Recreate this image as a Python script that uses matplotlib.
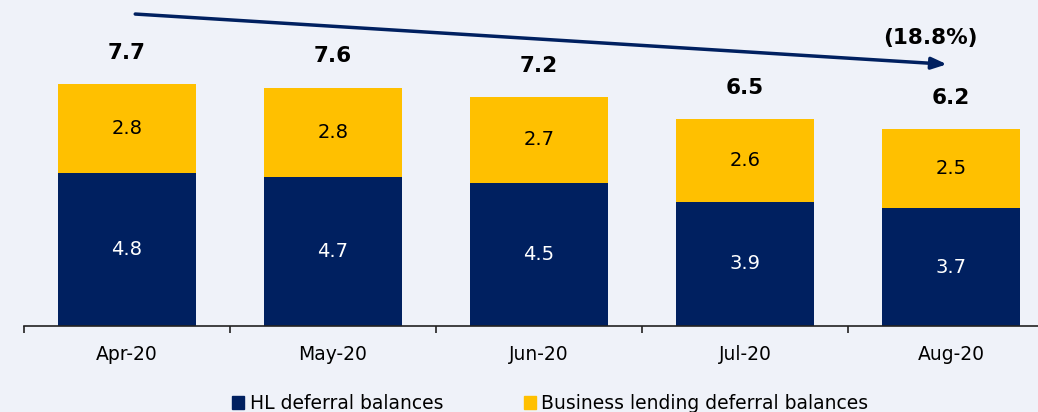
import matplotlib
matplotlib.use("Agg")
import matplotlib.pyplot as plt
from matplotlib.patches import Patch
import numpy as np

categories = ["Apr-20", "May-20", "Jun-20", "Jul-20", "Aug-20"]
hl_values = [4.8, 4.7, 4.5, 3.9, 3.7]
bl_values = [2.8, 2.8, 2.7, 2.6, 2.5]
total_labels = [7.7, 7.6, 7.2, 6.5, 6.2]
change_label = "(18.8%)"
series_names = ["HL deferral balances", "Business lending deferral balances"]

NAVY = "#002060"
GOLD = "#FFC000"
BG = "#EFF2F9"

plt.rcParams['font.family'] = ['DejaVu Sans']

fig = plt.figure(figsize=(10.38, 4.12), dpi=100, facecolor=BG)
ax = fig.add_axes([24/1038, 86/412, 1030/1038, 326/412])
ax.set_facecolor(BG)

x = np.arange(len(categories))
hl = np.array(hl_values)
bl = np.array(bl_values)
ax.bar(x, hl, width=0.67, color=NAVY, zorder=2)
ax.bar(x, bl, width=0.67, bottom=hl, color=GOLD, zorder=2)

for i in range(len(x)):
    ax.text(x[i], hl[i] / 2, f"{hl[i]:.1f}", ha="center", va="center",
            color="white", fontsize=14)
    ax.text(x[i], hl[i] + bl[i] / 2, f"{bl[i]:.1f}", ha="center", va="center",
            color="black", fontsize=14)
    ax.text(x[i], hl[i] + bl[i] + 0.98, f"{total_labels[i]:.1f}", ha="center",
            va="center", color="black", fontsize=15.5, fontweight="bold")

ax.set_xlim(-0.5, len(categories) - 0.5)
ax.set_ylim(0, 326/31.8)

# arrow showing the change
ax.annotate("", xy=(3.98, 8.23), xytext=(0.04, 9.81),
            arrowprops=dict(arrowstyle="-|>,head_length=0.9,head_width=0.35",
                            color=NAVY, lw=2.5, shrinkA=0, shrinkB=0),
            annotation_clip=False)
ax.text(3.9, 9.07, change_label, ha="center", va="center", fontsize=15.5,
        fontweight="bold", color="black")

for s in ["top", "right", "left"]:
    ax.spines[s].set_visible(False)
ax.spines["bottom"].set_color("#222222")
ax.spines["bottom"].set_linewidth(1.2)
ax.set_yticks([])
ax.set_xticks(np.arange(len(categories) + 1) - 0.5)
ax.set_xticklabels([])
ax.set_xticks(x, minor=True)
ax.set_xticklabels(categories, minor=True, fontsize=13.5)
ax.tick_params(axis="x", which="major", length=5, width=1.2, color="#222222")
ax.tick_params(axis="x", which="minor", length=0, pad=14)

handles = [Patch(facecolor=NAVY, edgecolor=NAVY), Patch(facecolor=GOLD, edgecolor=GOLD)]
fig.legend(handles, series_names, loc="center", bbox_to_anchor=(0.53, 0.02),
           ncol=2, frameon=False, fontsize=13.5, handlelength=0.65, handleheight=0.65,
           handletextpad=0.3, columnspacing=4.3)

fig.savefig("out.png", dpi=100, facecolor=BG)
